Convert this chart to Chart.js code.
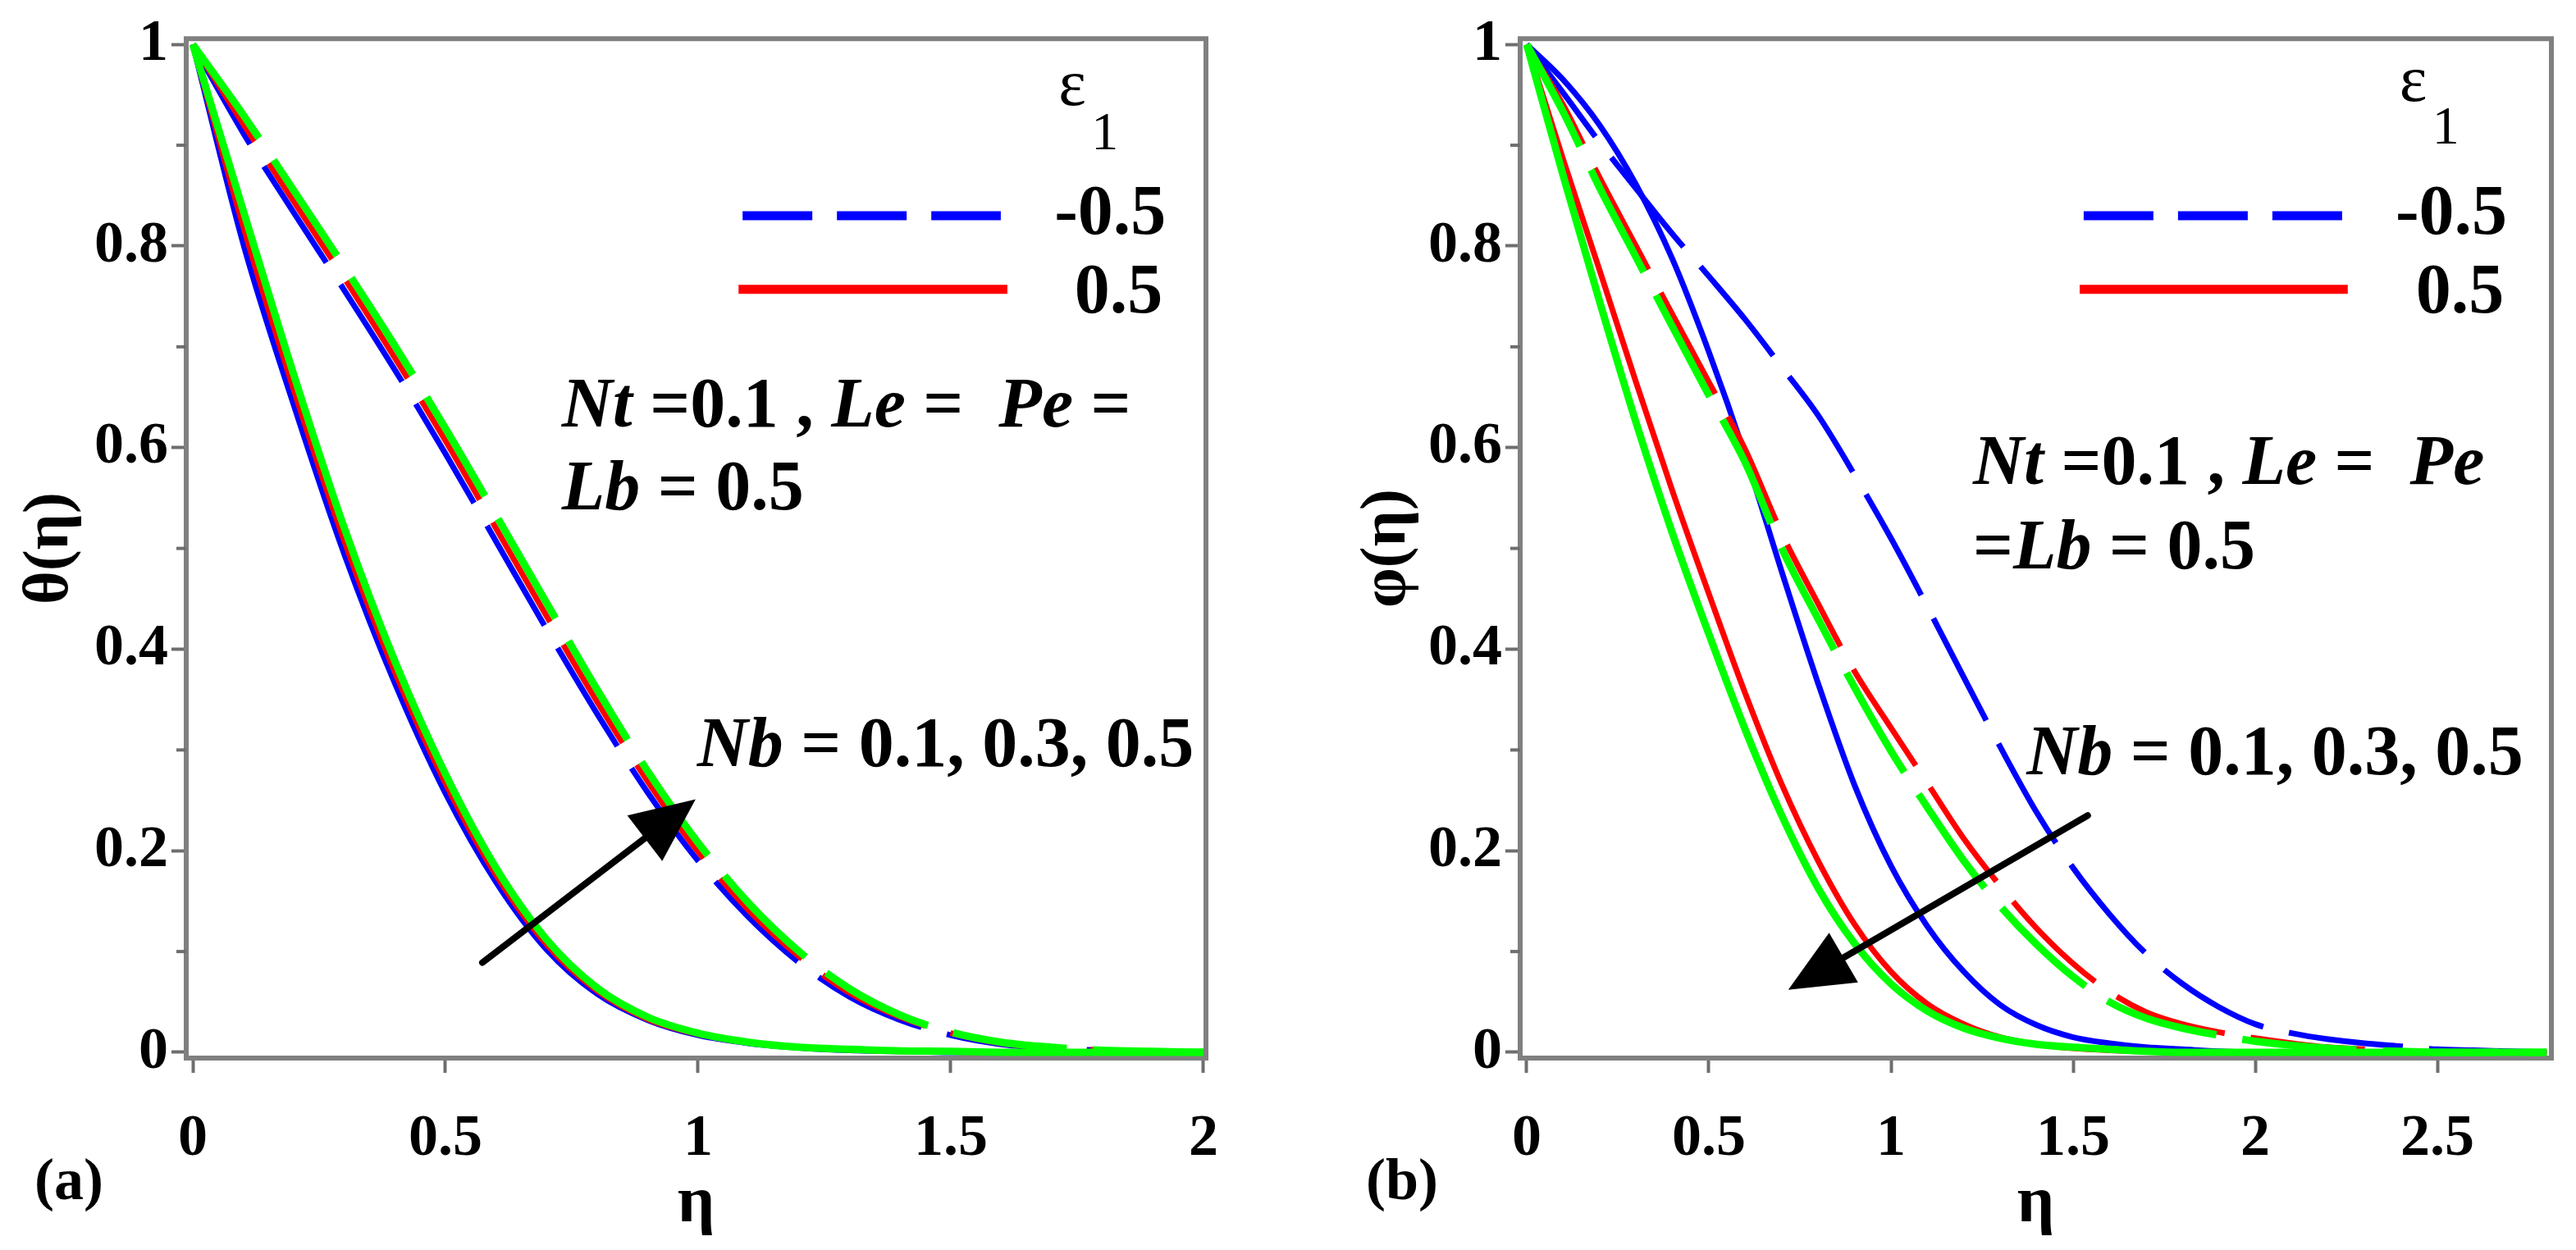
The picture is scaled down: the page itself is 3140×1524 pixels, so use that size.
<!DOCTYPE html>
<html>
<head>
<meta charset="utf-8">
<title>Nb effect on theta and phi</title>
<script src="https://cdn.jsdelivr.net/npm/chart.js"></script>
<style>
  body { margin: 0; background: #fff; }
  .panel { position: absolute; top: 0; }
  #panelA { left: 0; }
  #panelB { left: 1570px; }
</style>
</head>
<body>
<canvas id="panelA" class="panel" width="1570" height="1524"></canvas>
<canvas id="panelB" class="panel" width="1570" height="1524"></canvas>
<script>

// ---- data ----
var etaA = [0, 0.1, 0.2, 0.3, 0.4, 0.5, 0.6, 0.7, 0.8, 0.9, 1.0,
            1.1, 1.2, 1.3, 1.4, 1.5, 1.6, 1.7, 1.8, 1.9, 2.0];
var etaB = [0, 0.1, 0.2, 0.3, 0.4, 0.5, 0.6, 0.7, 0.8, 0.9, 1.0,
            1.1, 1.2, 1.3, 1.4, 1.5, 1.6, 1.7, 1.8, 1.9, 2.0,
            2.1, 2.2, 2.3, 2.4, 2.5, 2.6, 2.7, 2.8];

// (a) theta, eps1 = -0.5 (dashed)
var thetaNeg_Nb01 = [1, 0.912, 0.833, 0.756, 0.677, 0.594, 0.507, 0.42, 0.336, 0.258, 0.19, 0.134, 0.089, 0.055, 0.032, 0.017, 0.008, 0.004, 0.002, 0.001, 0];
var thetaNeg_Nb03 = [1, 0.921, 0.844, 0.768, 0.689, 0.607, 0.52, 0.433, 0.348, 0.269, 0.199, 0.141, 0.095, 0.059, 0.035, 0.019, 0.009, 0.0045, 0.002, 0.001, 0];
var thetaNeg_Nb05 = [1, 0.93, 0.855, 0.779, 0.701, 0.619, 0.533, 0.446, 0.36, 0.279, 0.208, 0.148, 0.1, 0.063, 0.037, 0.02, 0.01, 0.005, 0.002, 0.001, 0];
// (a) theta, eps1 = 0.5 (solid)
var thetaPos_Nb01 = [1, 0.802, 0.642, 0.494, 0.366, 0.257, 0.169, 0.102, 0.058, 0.032, 0.017, 0.009, 0.0045, 0.002, 0.001, 0, 0, 0, 0, 0, 0];
var thetaPos_Nb03 = [1, 0.819, 0.657, 0.507, 0.377, 0.267, 0.176, 0.107, 0.061, 0.033, 0.018, 0.0095, 0.005, 0.0025, 0.001, 0.0005, 0, 0, 0, 0, 0];
var thetaPos_Nb05 = [1, 0.835, 0.672, 0.52, 0.388, 0.276, 0.183, 0.112, 0.064, 0.035, 0.019, 0.01, 0.005, 0.003, 0.0015, 0.001, 0, 0, 0, 0, 0];

// (b) phi, eps1 = -0.5 (dashed)
var phiNeg_Nb01 = [1, 0.952, 0.903, 0.857, 0.812, 0.77, 0.727, 0.68, 0.632, 0.573, 0.51, 0.442, 0.372, 0.303, 0.238, 0.183, 0.137, 0.098, 0.068, 0.045, 0.028, 0.019, 0.013, 0.009, 0.006, 0.003, 0.002, 0.001, 0];
var phiNeg_Nb03 = [1, 0.94, 0.868, 0.8, 0.732, 0.665, 0.598, 0.515, 0.445, 0.378, 0.322, 0.267, 0.212, 0.165, 0.123, 0.088, 0.06, 0.04, 0.028, 0.02, 0.014, 0.009, 0.005, 0.003, 0.001, 0, 0, 0, 0];
var phiNeg_Nb05 = [1, 0.933, 0.858, 0.789, 0.72, 0.652, 0.585, 0.5, 0.43, 0.362, 0.299, 0.243, 0.19, 0.145, 0.107, 0.075, 0.05, 0.034, 0.024, 0.017, 0.011, 0.007, 0.004, 0.002, 0.001, 0, 0, 0, 0];
// (b) phi, eps1 = 0.5 (solid)
var phiPos_Nb01 = [1, 0.965, 0.92, 0.861, 0.787, 0.695, 0.592, 0.477, 0.366, 0.265, 0.185, 0.125, 0.08, 0.047, 0.027, 0.015, 0.009, 0.005, 0.003, 0.001, 0, 0, 0, 0, 0, 0, 0, 0, 0];
var phiPos_Nb03 = [1, 0.886, 0.776, 0.665, 0.557, 0.455, 0.356, 0.266, 0.19, 0.127, 0.08, 0.048, 0.028, 0.015, 0.008, 0.004, 0.002, 0.001, 0, 0, 0, 0, 0, 0, 0, 0, 0, 0, 0];
var phiPos_Nb05 = [1, 0.87, 0.745, 0.625, 0.515, 0.415, 0.32, 0.235, 0.163, 0.108, 0.068, 0.041, 0.024, 0.014, 0.008, 0.005, 0.003, 0.001, 0, 0, 0, 0, 0, 0, 0, 0, 0, 0, 0];

var xTicksA = [0, 0.5, 1, 1.5, 2];
var xTicksB = [0, 0.5, 1, 1.5, 2, 2.5];
var yTicks = [0, 0.2, 0.4, 0.6, 0.8, 1];
var yMinorTicks = [0.1, 0.3, 0.5, 0.7, 0.9];
var legendLabels = ['-0.5', '0.5'];

// ---- styling ----
const BLUE = '#0000ff', RED = '#ff0000', GREEN = '#00ff00';
const AXIS_GREY = '#808080', TICK_GREY = '#6e6e6e';
const SERIF = '"Liberation Serif", "Times New Roman", serif';
const CURVE_DASH = [140, 32];

function pts(xs, ys) {
    return ys.map((y, i) => ({x: xs[i], y: y}));
}

function curve(xs, ys, color, width, dashed, order) {
    return {
        data: pts(xs, ys),
        borderColor: color,
        borderWidth: width,
        borderDash: dashed ? CURVE_DASH : [],
        borderCapStyle: 'butt',
        pointRadius: 0,
        fill: false,
        cubicInterpolationMode: 'monotone',
        order: order
    };
}

function richText(ctx, parts, x, y, size) {
    ctx.textBaseline = 'middle';
    ctx.textAlign = 'left';
    for (const p of parts) {
        ctx.font = (p[1] ? 'italic ' : '') + 'bold ' + size + 'px ' + SERIF;
        ctx.fillText(p[0], x, y);
        x += ctx.measureText(p[0]).width;
    }
}

function arrow(ctx, x1, y1, x2, y2, headLen, headHalf, shaft) {
    const ang = Math.atan2(y2 - y1, x2 - x1);
    const bx = x2 - headLen * Math.cos(ang), by = y2 - headLen * Math.sin(ang);
    ctx.strokeStyle = '#000';
    ctx.lineWidth = shaft;
    ctx.lineCap = 'round';
    ctx.beginPath(); ctx.moveTo(x1, y1); ctx.lineTo(bx, by); ctx.stroke();
    ctx.fillStyle = '#000';
    ctx.beginPath();
    ctx.moveTo(x2, y2);
    ctx.lineTo(bx + headHalf * Math.sin(ang), by - headHalf * Math.cos(ang));
    ctx.lineTo(bx - headHalf * Math.sin(ang), by + headHalf * Math.cos(ang));
    ctx.closePath(); ctx.fill();
}

function decor(ann) {
    return {
        id: 'decor',
        beforeDatasetsDraw(chart) {
            const a = chart.chartArea, ctx = chart.ctx, ys = chart.scales.y;
            ctx.save();
            ctx.strokeStyle = AXIS_GREY; ctx.lineWidth = 6;
            ctx.strokeRect(a.left, a.top, a.right - a.left, a.bottom - a.top);
            ctx.strokeStyle = TICK_GREY; ctx.lineWidth = 4;
            for (const v of yMinorTicks) {
                const py = ys.getPixelForValue(v);
                ctx.beginPath(); ctx.moveTo(a.left - 12, py); ctx.lineTo(a.left, py); ctx.stroke();
            }
            ctx.restore();
        },
        afterDatasetsDraw(chart) {
            const ctx = chart.ctx, xs = chart.scales.x, ys = chart.scales.y;
            const X = v => xs.getPixelForValue(v), Y = v => ys.getPixelForValue(v);
            ctx.save();
            ctx.fillStyle = '#000';
            // legend
            ctx.textBaseline = 'middle'; ctx.textAlign = 'left';
            ctx.font = '80px ' + SERIF;
            ctx.fillText('ε', X(ann.eps[0]), Y(ann.eps[1]));
            ctx.font = '66px ' + SERIF;
            ctx.fillText('1', X(ann.sub[0]), Y(ann.sub[1]));
            ctx.lineWidth = 11; ctx.lineCap = 'butt';
            ctx.strokeStyle = BLUE; ctx.setLineDash([85, 30]);
            ctx.beginPath(); ctx.moveTo(X(ann.dashLine[0]), Y(ann.dashLine[2])); ctx.lineTo(X(ann.dashLine[1]), Y(ann.dashLine[2])); ctx.stroke();
            ctx.strokeStyle = RED; ctx.setLineDash([]);
            ctx.beginPath(); ctx.moveTo(X(ann.solidLine[0]), Y(ann.solidLine[2])); ctx.lineTo(X(ann.solidLine[1]), Y(ann.solidLine[2])); ctx.stroke();
            ctx.font = 'bold 86px ' + SERIF;
            ctx.fillText(legendLabels[0], X(ann.lab1[0]), Y(ann.lab1[1]));
            ctx.fillText(legendLabels[1], X(ann.lab2[0]), Y(ann.lab2[1]));
            // parameter notes
            richText(ctx, ann.line1, X(ann.line1Pos[0]), Y(ann.line1Pos[1]), 86);
            richText(ctx, ann.line2, X(ann.line2Pos[0]), Y(ann.line2Pos[1]), 86);
            richText(ctx, [['Nb', true], [' = 0.1, 0.3, 0.5', false]], X(ann.nbPos[0]), Y(ann.nbPos[1]), 86);
            arrow(ctx, X(ann.arrow[0]), Y(ann.arrow[1]), X(ann.arrow[2]), Y(ann.arrow[3]), 78, 35, 8);
            // panel tag
            ctx.font = 'bold 72px ' + SERIF;
            ctx.textAlign = 'center';
            ctx.fillText(ann.tag, ann.tagPos[0], ann.tagPos[1]);
            ctx.restore();
        }
    };
}

function makePanel(id, eta, series, xMin, xMax, xTicks, yTitle, yTitlePad, yWidth, rightPad, ann) {
    const tickFont = {family: SERIF, size: 72, weight: 'bold'};
    return new Chart(document.getElementById(id).getContext('2d'), {
        type: 'line',
        data: {datasets: series},
        options: {
            responsive: false,
            animation: false,
            devicePixelRatio: 1,
            layout: {padding: {left: 0, top: 43, right: rightPad, bottom: 0}},
            plugins: {legend: {display: false}, tooltip: {enabled: false}},
            scales: {
                x: {
                    type: 'linear', min: xMin, max: xMax,
                    afterFit: s => { s.height = 234; },
                    afterBuildTicks: s => { s.ticks = xTicks.map(v => ({value: v})); },
                    ticks: {autoSkip: false, maxRotation: 0, padding: 38, color: '#000', font: tickFont,
                            callback: v => String(v)},
                    grid: {drawOnChartArea: false, drawTicks: true, tickLength: 18, tickWidth: 4, tickColor: TICK_GREY},
                    border: {display: false},
                    title: {display: true, text: 'η', color: '#000',
                            font: {family: SERIF, size: 80, weight: 'bold'}, padding: {top: 0, bottom: 8}}
                },
                y: {
                    type: 'linear', min: -0.0057, max: 1.0057,
                    afterFit: s => { s.width = yWidth; },
                    afterBuildTicks: s => { s.ticks = yTicks.map(v => ({value: v})); },
                    ticks: {autoSkip: false, padding: 4, color: '#000', font: tickFont,
                            callback: v => String(v)},
                    grid: {drawOnChartArea: false, drawTicks: true, tickLength: 18, tickWidth: 4, tickColor: TICK_GREY},
                    border: {display: false},
                    title: {display: true, text: yTitle, color: '#000',
                            font: {family: SERIF, size: 78, weight: 'bold'}, padding: {top: yTitlePad, bottom: 0}}
                }
            }
        },
        plugins: [decor(ann)]
    });
}

const seriesA = [
    curve(etaA, thetaNeg_Nb05, GREEN, 9, true, 1),
    curve(etaA, thetaPos_Nb05, GREEN, 9, false, 2),
    curve(etaA, thetaNeg_Nb03, RED, 7, true, 3),
    curve(etaA, thetaPos_Nb03, RED, 7, false, 4),
    curve(etaA, thetaNeg_Nb01, BLUE, 7, true, 5),
    curve(etaA, thetaPos_Nb01, BLUE, 7, false, 6)
];

const seriesB = [
    curve(etaB, phiNeg_Nb05, GREEN, 9, true, 1),
    curve(etaB, phiPos_Nb05, GREEN, 9, false, 2),
    curve(etaB, phiNeg_Nb03, RED, 7, true, 3),
    curve(etaB, phiPos_Nb03, RED, 7, false, 4),
    curve(etaB, phiNeg_Nb01, BLUE, 7, true, 5),
    curve(etaB, phiPos_Nb01, BLUE, 7, false, 6)
];

makePanel('panelA', etaA, seriesA, -0.013, 2.005, xTicksA, 'θ(η)', 15, 227, 100, {
    eps: [1.713, 0.957], sub: [1.778, 0.91],
    dashLine: [1.088, 1.599, 0.83], solidLine: [1.08, 1.612, 0.757],
    lab1: [1.705, 0.83], lab2: [1.745, 0.752],
    line1: [['Nt', true], [' =0.1 , ', false], ['Le', true], [' =  ', false], ['Pe', true], [' =', false]],
    line1Pos: [0.73, 0.639],
    line2: [['Lb', true], [' = 0.5', false]],
    line2Pos: [0.73, 0.557],
    nbPos: [0.998, 0.302],
    arrow: [0.573, 0.089, 0.995, 0.251],
    tag: '(a)', tagPos: [84, 1443]
});

makePanel('panelB', etaB, seriesB, -0.018, 2.813, xTicksB, 'φ(η)', 75, 283, 30, {
    eps: [2.396, 0.961], sub: [2.486, 0.916],
    dashLine: [1.529, 2.239, 0.83], solidLine: [1.518, 2.254, 0.757],
    lab1: [2.385, 0.83], lab2: [2.441, 0.752],
    line1: [['Nt', true], [' =0.1 , ', false], ['Le', true], [' =  ', false], ['Pe', true]],
    line1Pos: [1.225, 0.582],
    line2: [['=', false], ['Lb', true], [' = 0.5', false]],
    line2Pos: [1.225, 0.498],
    nbPos: [1.372, 0.294],
    arrow: [1.54, 0.235, 0.718, 0.062],
    tag: '(b)', tagPos: [139, 1443]
});

</script>
</body>
</html>
